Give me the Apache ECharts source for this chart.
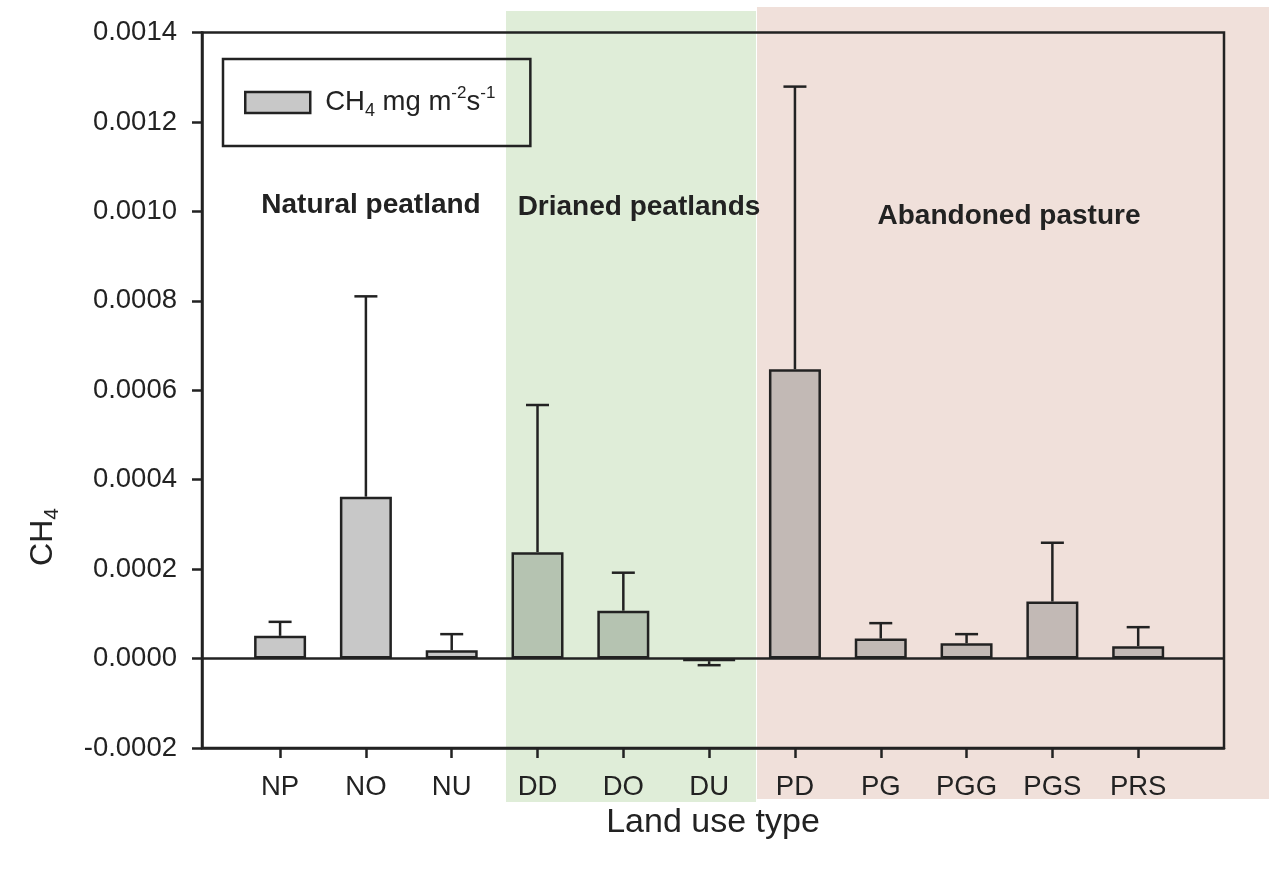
<!DOCTYPE html>
<html>
<head>
<meta charset="utf-8">
<script src="https://cdn.jsdelivr.net/npm/echarts@6/dist/echarts.min.js"></script>
<style>
html,body{margin:0;padding:0;background:#fff;}
#chart{width:1269px;height:869px;}
</style>
</head>
<body>
<div id="chart"></div>
<script>
// ---- data ----
const categories = ['NP','NO','NU','DD','DO','DU','PD','PG','PGG','PGS','PRS'];
const means  = [0.0000508, 0.000362, 0.0000188, 0.000238, 0.000107, -0.0000058, 0.000647, 0.0000447, 0.0000344, 0.0001275, 0.0000277];
const errors = [0.0000313, 0.000448, 0.0000358, 0.000329, 0.000085, 0.000009, 0.000632, 0.0000345, 0.0000202, 0.0001315, 0.0000425];
const groupOfCategory = [0,0,0,1,1,1,2,2,2,2,2];
const groupNames = ['Natural peatland','Drianed peatlands','Abandoned pasture'];
const yMin = -0.0002, yMax = 0.0014, yStep = 0.0002;

// ---- styling ----
const FONT = 'Liberation Sans, Arial, sans-serif';
const INK = '#222';
const LW = 2.5;
const groupBarColors = ['#c8c8c8', '#b5c3b1', '#c2b9b5'];
const positions = categories.map((c, i) => i + 1);

const chart = echarts.init(document.getElementById('chart'), null, {renderer: 'canvas'});

const barData = means.map((m, i) => ({
  value: [positions[i], m],
  itemStyle: {color: groupBarColors[groupOfCategory[i]]}
}));
const errData = means.map((m, i) => [positions[i], m, errors[i]]);

const option = {
  animation: false,
  backgroundColor: '#fff',
  grid: {left: 202, right: 45, top: 32.5, bottom: 121, show: true, borderColor: INK, borderWidth: LW, backgroundColor: 'transparent'},
  legend: {
    left: 223, top: 59,
    padding: [26, 35, 26, 21],
    borderColor: INK, borderWidth: LW,
    itemWidth: 65, itemHeight: 21,
    icon: 'rect',
    itemStyle: {color: '#c8c8c8', borderColor: INK, borderWidth: LW},
    data: ['CH4'],
    formatter: () => '{a|CH}{b|4}{a| mg m}{c|-2}{a|s}{c|-1}',
    textStyle: {
      padding: [0, 0, 0, 10],
      rich: {
        a: {fontSize: 27.5, fontFamily: FONT, color: INK, lineHeight: 35},
        b: {fontSize: 18, fontFamily: FONT, color: INK, verticalAlign: 'bottom', lineHeight: 18},
        c: {fontSize: 17, fontFamily: FONT, color: INK, verticalAlign: 'top', lineHeight: 17}
      }
    }
  },
  xAxis: {
    type: 'value',
    min: 0.09, max: 12.0,
    name: 'Land use type',
    nameLocation: 'middle',
    nameGap: 57,
    nameTextStyle: {fontSize: 34, fontFamily: FONT, color: INK},
    axisLine: {onZero: false, lineStyle: {color: INK, width: LW}},
    axisTick: {show: true, inside: false, length: 10, lineStyle: {color: INK, width: LW}, customValues: positions},
    axisLabel: {fontSize: 27.5, fontFamily: FONT, color: INK, margin: 25, customValues: positions,
      formatter: v => categories[Math.round(v) - 1] || ''},
    splitLine: {show: false}
  },
  yAxis: {
    type: 'value',
    min: yMin, max: yMax, interval: yStep,
    axisLine: {show: true, lineStyle: {color: INK, width: LW}},
    axisTick: {show: true, inside: false, length: 10, lineStyle: {color: INK, width: LW}},
    axisLabel: {fontSize: 27.5, fontFamily: FONT, color: INK, margin: 25,
      formatter: v => (Math.abs(v) < 1e-12 ? 0 : v).toFixed(4)},
    splitLine: {show: false}
  },
  series: [
    {
      name: 'CH4',
      type: 'bar',
      barWidth: 52,
      data: barData,
      itemStyle: {color: '#c8c8c8', borderColor: INK, borderWidth: LW},
      z: 2,
      markLine: {
        silent: true, symbol: 'none', label: {show: false},
        lineStyle: {color: INK, width: LW, type: 'solid'},
        data: [{yAxis: 0}]
      }
    },
    {
      name: 'err',
      type: 'custom',
      z: 3,
      data: errData,
      encode: {x: 0, y: 1},
      renderItem: (params, api) => {
        const x = api.value(0), m = api.value(1), e = api.value(2);
        const end = m >= 0 ? m + e : m - e;
        const p0 = api.coord([x, m]);
        const p1 = api.coord([x, end]);
        const half = 11.5;
        return {
          type: 'group',
          children: [
            {type: 'line', shape: {x1: p0[0], y1: p0[1], x2: p1[0], y2: p1[1]}, style: {stroke: INK, lineWidth: LW}},
            {type: 'line', shape: {x1: p1[0] - half, y1: p1[1], x2: p1[0] + half, y2: p1[1]}, style: {stroke: INK, lineWidth: LW}}
          ]
        };
      }
    }
  ],
  graphic: [
    {type: 'rect', z: -100, shape: {x: 506, y: 11, width: 250, height: 791}, style: {fill: '#dfedd8'}, silent: true},
    {type: 'rect', z: -100, shape: {x: 757, y: 7, width: 512, height: 792}, style: {fill: '#f0e0da'}, silent: true},
    {type: 'text', x: 371, y: 205, style: {text: groupNames[0], font: 'bold 28px ' + FONT, fill: INK, align: 'center', verticalAlign: 'middle'}},
    {type: 'text', x: 639, y: 207, style: {text: groupNames[1], font: 'bold 28px ' + FONT, fill: INK, align: 'center', verticalAlign: 'middle'}},
    {type: 'text', x: 1009, y: 216, style: {text: groupNames[2], font: 'bold 28px ' + FONT, fill: INK, align: 'center', verticalAlign: 'middle'}},
    {type: 'text', x: 43, y: 537, rotation: Math.PI / 2,
      style: {text: '{a|CH}{b|4}', align: 'center', verticalAlign: 'middle',
        rich: {
          a: {fontSize: 32, fontFamily: FONT, fill: INK, lineHeight: 40},
          b: {fontSize: 21, fontFamily: FONT, fill: INK, verticalAlign: 'bottom', lineHeight: 21}
        }}}
  ]
};
chart.setOption(option);
</script>
</body>
</html>
